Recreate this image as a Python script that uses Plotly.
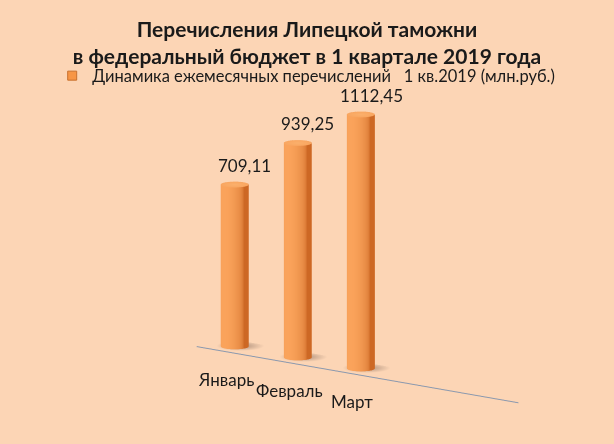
import numpy as np
import plotly.graph_objects as go

months = ["Январь", "Февраль", "Март"]
values = [709.11, 939.25, 1112.45]
title_lines = ["Перечисления Липецкой таможни", "в федеральный бюджет в 1 квартале 2019 года"]
legend_name = "Динамика ежемесячных перечислений   1 кв.2019 (млн.руб.)"

BG = "#FCD5B5"
ORANGE = "#F79646"
FONT = "Lato"
R = 0.17   # cylinder radius in category units
N = 48
HL = np.deg2rad(-100)  # highlight direction around the cylinder
X_RANGE = [-0.35, 4.75]
Y_RANGE = [-0.3, 0.3]
Z_RANGE = [0, 1250]


def shade(t):
    dark = np.array([205, 104, 36])
    light = np.array([251, 164, 92])
    c = dark + (light - dark) * t
    return "rgb(%d,%d,%d)" % tuple(c.astype(int))


def cylinder(x0, h):
    ang = np.linspace(0, 2 * np.pi, N, endpoint=False)
    xs = x0 + R * np.cos(ang)
    ys = R * np.sin(ang)
    X = np.concatenate([xs, xs, xs, [x0]])
    Y = np.concatenate([ys, ys, ys, [0.0]])
    Z = np.concatenate([np.zeros(N), np.full(N, h), np.full(N, h), [h]])
    t = np.clip(np.cos(ang - HL), 0, 1) ** 0.45
    side_cols = [shade(v) for v in t]
    cols = side_cols + side_cols + ["rgb(249,166,96)"] * N + ["rgb(251,176,108)"]
    I, J, K = [], [], []
    for k in range(N):
        k1 = (k + 1) % N
        I += [k, k1]
        J += [k1, N + k1]
        K += [N + k, N + k]
        I.append(2 * N + k)
        J.append(2 * N + k1)
        K.append(3 * N)
    return go.Mesh3d(x=X, y=Y, z=Z, i=I, j=J, k=K, vertexcolor=cols,
                     flatshading=False,
                     lighting=dict(ambient=1, diffuse=0, specular=0, roughness=1, fresnel=0),
                     hoverinfo="skip", showlegend=False)


def shadow(x0):
    ang = np.linspace(0, 2 * np.pi, N, endpoint=False)
    rs = 1.7 * R
    cx, cy = x0 + 0.03, 0.07
    X = np.concatenate([[cx], cx + rs * np.cos(ang)])
    Y = np.concatenate([[cy], cy + rs * np.sin(ang)])
    Z = np.zeros(N + 1)
    cols = ["rgb(170,140,120)"] + ["rgb(252,213,181)"] * N
    I = [0] * N
    J = [1 + k for k in range(N)]
    K = [1 + (k + 1) % N for k in range(N)]
    return go.Mesh3d(x=X, y=Y, z=Z, i=I, j=J, k=K, vertexcolor=cols,
                     lighting=dict(ambient=1, diffuse=0, specular=0, roughness=1, fresnel=0),
                     hoverinfo="skip", showlegend=False)


fig = go.Figure()
for idx, v in enumerate(values):
    fig.add_trace(shadow(idx))
    fig.add_trace(cylinder(idx, v))

fig.add_trace(go.Scatter(x=[None], y=[None], mode="markers", name=legend_name,
                         marker=dict(symbol="square", size=9, color=ORANGE,
                                     line=dict(color="#C8702E", width=1)),
                         showlegend=True))

d = 0.87
eye = dict(x=d * 0.629, y=-d * 0.749, z=d * 0.208)

cat_annotations = [
    dict(x=i, y=Y_RANGE[0], z=0, text=m, showarrow=False, xshift=7, yshift=-29,
         xanchor="center", yanchor="middle",
         font=dict(family=FONT, size=17, color="#1a1a1a"))
    for i, m in enumerate(months)
]
value_annotations = [
    dict(x=i, y=0, z=v, text=f"{v:.2f}".replace(".", ","), showarrow=False,
         xshift=10, yshift=19, xanchor="center", yanchor="middle",
         font=dict(family=FONT, size=17, color="#1a1a1a"))
    for i, v in enumerate(values)
]

fig.update_layout(
    width=614, height=444,
    paper_bgcolor=BG, plot_bgcolor=BG,
    margin=dict(l=0, r=0, t=0, b=0),
    font=dict(family=FONT, color="#1a1a1a"),
    title=dict(text="<b>" + title_lines[0] + "</b><br><b>" + title_lines[1] + "</b>",
               x=0.5, xanchor="center", y=0.9165, yanchor="top",
               font=dict(family=FONT, size=21, color="#1a1a1a")),
    showlegend=True,
    legend=dict(orientation="h", x=0.085, xanchor="left", y=0.829, yanchor="middle",
                bgcolor="rgba(0,0,0,0)", font=dict(family=FONT, size=16.5, color="#1a1a1a")),
    xaxis=dict(visible=False), yaxis=dict(visible=False),
    scene=dict(
        domain=dict(x=[0.217, 1], y=[0.0135, 0.9595]),
        bgcolor=BG,
        xaxis=dict(range=X_RANGE, tickvals=list(range(len(months))),
                   showticklabels=False,
                   showgrid=False, zeroline=False, showbackground=False,
                   showline=True, linecolor="#8A98AE", linewidth=2, ticks="",
                   title=dict(text=""), showspikes=False),
        yaxis=dict(range=Y_RANGE, visible=False, showspikes=False),
        zaxis=dict(range=Z_RANGE, visible=False, showspikes=False),
        aspectmode="manual",
        aspectratio=dict(x=2.0, y=2.0 * 0.6 / 5.1, z=1.39),
        camera=dict(eye=eye, up=dict(x=0, y=0, z=1), center=dict(x=0, y=0, z=0),
                    projection=dict(type="orthographic")),
        annotations=cat_annotations + value_annotations,
    ),
)

fig.write_html("out.html", config={"displayModeBar": False},
               post_script="document.body.style.margin='0';document.body.style.overflow='hidden';")
